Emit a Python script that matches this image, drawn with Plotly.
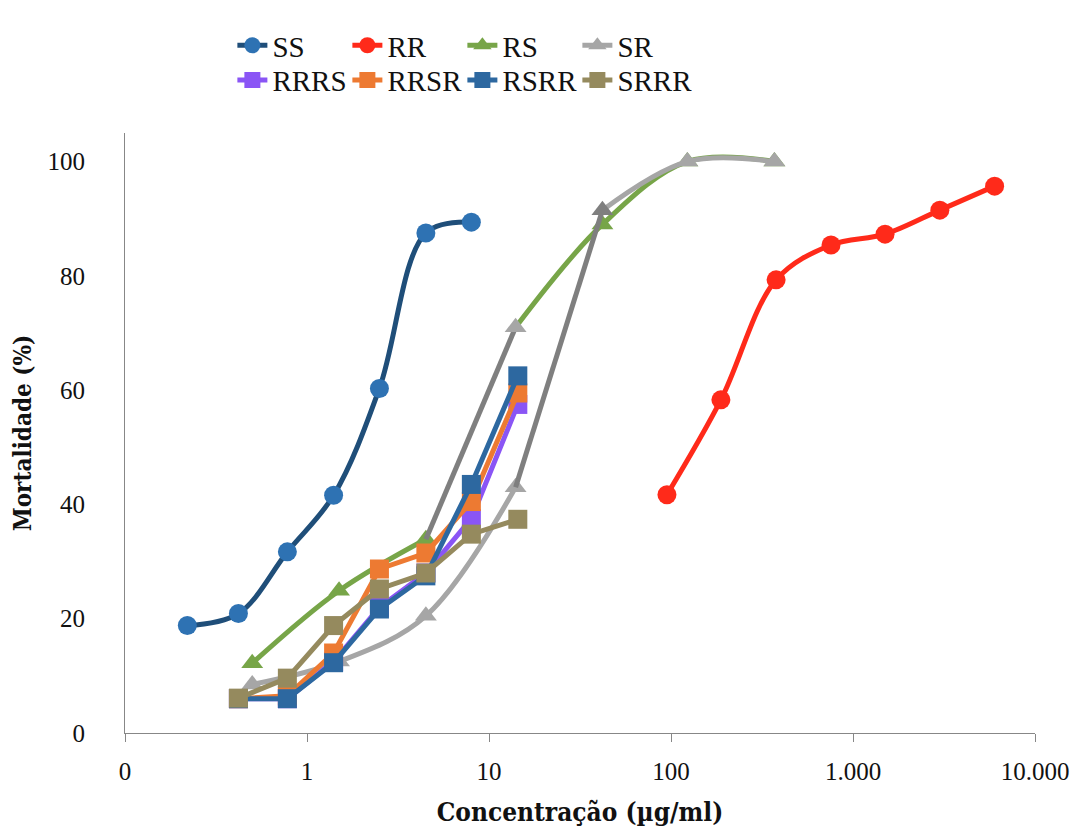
import plotly.graph_objects as go

# ---- data ----
ss_x = [0.22, 0.42, 0.78, 1.4, 2.5, 4.5, 8]
ss_y = [18.8, 20.9, 31.7, 41.6, 60.3, 87.5, 89.4]

rr_x = [95, 188, 378, 757, 1500, 3000, 6000]
rr_y = [41.7, 58.3, 79.3, 85.4, 87.3, 91.5, 95.7]

tri_x = [0.5, 1.5, 4.5, 14, 42, 123, 370]
rs_y = [12.2, 24.9, 33.9, 71, 89, 100, 100]
sr_y = [8.5, 12.5, 20.5, 43, 91.5, 100, 100]

sq_x = [0.42, 0.78, 1.4, 2.5, 4.5, 8, 14.4]
rrrs_y = [6, 6, 12.5, 22, 28, 37.5, 57.5]
rrsr_y = [6, 6.5, 14, 28.7, 31.5, 40.5, 59.5]
rsrr_y = [6, 6, 12.3, 21.7, 27.5, 43.5, 62.5]
srrr_y = [6.1, 9.6, 18.8, 25.2, 28.0, 34.8, 37.4]

x_tickvals = [0.1, 1, 10, 100, 1000, 10000]
x_ticktext = ["0", "1", "10", "100", "1.000", "10.000"]
y_tickvals = [0, 20, 40, 60, 80, 100]

# ---- styles ----
LW = 5
C_SS_LINE, C_SS_MK = "#1F4E79", "#2E72B3"
C_RR = "#FF2A1A"
C_RS = "#77A548"
C_SR = "#A6A6A6"
C_DG = "#7F7F7F"
C_RRRS = "#8A55F5"
C_RRSR = "#ED7A32"
C_RSRR = "#2D68A0"
C_SRRR = "#958A5E"

fig = go.Figure()

def add(x, y, name, lc, mc, symbol, size, shape="spline", legend="legend",
        showlegend=True, mode="lines+markers"):
    fig.add_trace(go.Scatter(
        x=x, y=y, name=name, mode=mode,
        line=dict(color=lc, width=LW, shape=shape, smoothing=1),
        marker=dict(color=mc, symbol=symbol, size=size, line=dict(width=0)),
        legend=legend, showlegend=showlegend,
    ))

add(ss_x, ss_y, "SS", C_SS_LINE, C_SS_MK, "circle", 19)
add(rr_x, rr_y, "RR", C_RR, C_RR, "circle", 19)

# RS: segment into 14 drawn dark grey, marker at 14 light grey (as in reference)
add(tri_x[:3], rs_y[:3], "RS", C_RS, C_RS, "triangle-up", 19)
add(tri_x[2:4], rs_y[2:4], "RS", C_DG, C_DG, "triangle-up", 19,
    showlegend=False, mode="lines")
add(tri_x[3:], rs_y[3:], "RS", C_RS, [C_SR, C_RS, C_RS, C_RS], "triangle-up", 19,
    showlegend=False)

# SR: segment into 42 drawn dark grey, marker at 42 dark grey
add(tri_x[:4], sr_y[:4], "SR", C_SR, C_SR, "triangle-up", 19)
add(tri_x[3:5], sr_y[3:5], "SR", C_DG, C_DG, "triangle-up", 19,
    showlegend=False, mode="lines")
add(tri_x[4:], sr_y[4:], "SR", C_SR, [C_DG, C_SR, C_SR], "triangle-up", 19,
    showlegend=False)

add(sq_x, rrrs_y, "RRRS", C_RRRS, C_RRRS, "square", 19, shape="linear", legend="legend2")
add(sq_x, rrsr_y, "RRSR", C_RRSR, C_RRSR, "square", 19, shape="linear", legend="legend2")
add(sq_x, rsrr_y, "RSRR", C_RSRR, C_RSRR, "square", 19, shape="linear", legend="legend2")
add(sq_x, srrr_y, "SRRR", C_SRRR, C_SRRR, "square", 19, shape="linear", legend="legend2")

FONT = "Liberation Serif"
BFONT = "DejaVu Serif Condensed, DejaVu Serif, serif"
leg_common = dict(orientation="h", x=0.118, xanchor="left", yanchor="middle",
                  entrywidth=70, entrywidthmode="pixels",
                  font=dict(family=FONT, size=29, color="#111111"),
                  bgcolor="rgba(0,0,0,0)", traceorder="normal")

fig.update_layout(
    template="none",
    width=1086, height=834,
    margin=dict(l=117, r=59, t=122, b=109),
    paper_bgcolor="white", plot_bgcolor="white",
    font=dict(family=FONT, size=24, color="#111111"),
    legend=dict(leg_common, y=1.146),
    legend2=dict(leg_common, y=1.088),
    xaxis=dict(
        type="log", range=[-1, 4],
        tickvals=x_tickvals, ticktext=x_ticktext,
        showline=True, linecolor="#878787", linewidth=1,
        ticks="outside", ticklen=8, tickcolor="#878787",
        showgrid=False, zeroline=False, automargin=False,
        ticklabelstandoff=8,
        tickfont=dict(family=FONT, size=25, color="#111111"),
        title=dict(text="Concentração (µg/ml)", standoff=18,
                   font=dict(family=BFONT, size=26, color="#111111", weight=700)),
    ),
    yaxis=dict(
        range=[0, 105], tickvals=y_tickvals,
        showline=True, linecolor="#878787", linewidth=1,
        ticks="", showgrid=False, zeroline=False, automargin=False,
        ticklabelstandoff=34,
        tickfont=dict(family=FONT, size=25, color="#111111"),
        title=dict(text="Mortalidade (%)", standoff=12,
                   font=dict(family=BFONT, size=24, color="#111111", weight=700)),
    ),
)

fig.write_html("out.html")
